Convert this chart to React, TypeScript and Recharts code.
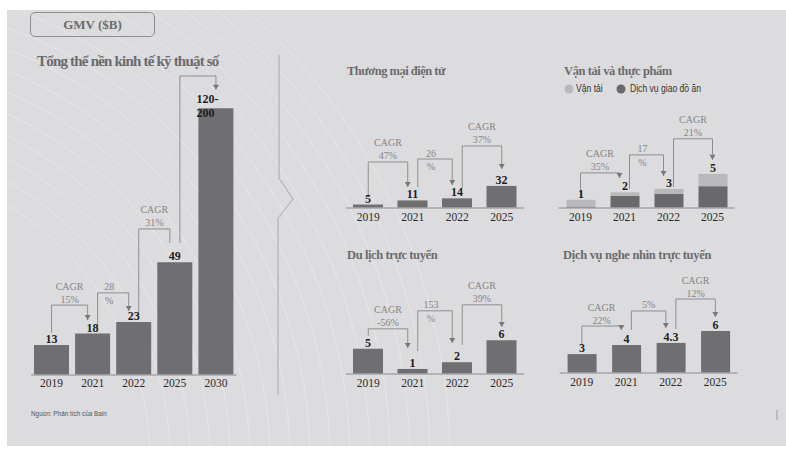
import React from 'react';
import { BarChart, Bar, XAxis, YAxis, LabelList, ReferenceLine } from 'recharts';

// categories
const years4 = ['2019', '2021', '2022', '2025'];
const years5 = ['2019', '2021', '2022', '2025', '2030'];

// GMV ($B)
const totalGmv = [13, 18, 23, 49, 116];
const totalLabels = ['13', '18', '23', '49', '120-200'];

const ecomGmv = [5, 11, 14, 32];
const ecomLabels = ['5', '11', '14', '32'];

const transportGmv = [1.0, 0.5, 0.7, 1.8];
const foodGmv = [0.2, 1.8, 2.1, 3.2];
const transportFoodLabels = ['1', '2', '3', '5'];

const travelGmv = [4.5, 0.9, 2.1, 6.0];
const travelLabels = ['5', '1', '2', '6'];

const mediaGmv = [2.7, 4.0, 4.3, 6.0];
const mediaLabels = ['3', '4', '4.3', '6'];

// CAGR brackets, levels in $B
type Bracket = { from: string; to: string; start: number; top: number; end: number; text: string[]; arrow?: boolean };

const totalCagr: Bracket[] = [
  { from: '2019', to: '2021', start: 18.3, top: 30.4, end: 23.9, text: ['CAGR', '15%'] },
  { from: '2021', to: '2022', start: 19.6, top: 35.7, end: 27.8, text: ['28', '%'] },
  { from: '2022', to: '2025', start: 24.8, top: 63.5, end: 57.4, text: ['CAGR', '31%'], arrow: false },
  { from: '2025', to: '2030', start: 57.4, top: 130, end: 124, text: [] },
];
const ecomCagr: Bracket[] = [
  { from: '2019', to: '2021', start: 15.9, top: 66.7, end: 30.4, text: ['CAGR', '47%'] },
  { from: '2021', to: '2022', start: 30.4, top: 71, end: 33.3, text: ['26', '%'] },
  { from: '2022', to: '2025', start: 29, top: 89.9, end: 56.5, text: ['CAGR', '37%'] },
];
const transportFoodCagr: Bracket[] = [
  { from: '2019', to: '2021', start: 1.76, top: 5.15, end: 4.41, text: ['CAGR', '35%'] },
  { from: '2021', to: '2022', start: 2.79, top: 7.79, end: 4.71, text: ['17', '%'] },
  { from: '2022', to: '2025', start: 3.09, top: 10.15, end: 7.06, text: ['CAGR', '21%'] },
];
const travelCagr: Bracket[] = [
  { from: '2019', to: '2021', start: 6.79, top: 8.04, end: 4.64, text: ['CAGR', '-56%'] },
  { from: '2021', to: '2022', start: 4.11, top: 11.25, end: 5.54, text: ['153', '%'] },
  { from: '2022', to: '2025', start: 5.18, top: 12.32, end: 8.39, text: ['CAGR', '39%'] },
];
const mediaCagr: Bracket[] = [
  { from: '2019', to: '2021', start: 4, top: 6.71, end: 6.14, text: ['CAGR', '22%'] },
  { from: '2021', to: '2022', start: 6.14, top: 8.86, end: 6.43, text: ['5%'] },
  { from: '2022', to: '2025', start: 6.29, top: 10.57, end: 8, text: ['CAGR', '12%'] },
];

const BG = '#dcdcde';
const BAR = '#6f6f71';
const BAR_DARK = '#69696b';
const BAR_LIGHT = '#b9b9bb';
const LINE = '#8e8e90';
const TITLE = '#6b6b6d';
const SERIF = '"Liberation Serif", "DejaVu Serif", serif';
const NARROW = '"Liberation Sans Narrow", "Liberation Sans", sans-serif';

const ValueLabel = (props: any) => {
  const { x, y, width, value } = props;
  const s = String(value);
  const style = { fontFamily: SERIF, fontSize: 12, fontWeight: 700, fill: '#1e1e1e' };
  if (s.includes('-')) {
    const [a, b] = s.split('-');
    return (
      <text x={x - 2} y={y} {...style}>
        <tspan x={x - 2} dy={-5}>{a}-</tspan>
        <tspan x={x - 2} dy={14}>{b}</tspan>
      </text>
    );
  }
  return (
    <text x={x + width / 2} y={y - 2} textAnchor="middle" {...style}>
      {s}
    </text>
  );
};

function renderBrackets(list: Bracket[], key: string) {
  return list.flatMap((b, i) => {
    const dxFrom = i === 0 ? 0 : 5;
    const dxTo = i === list.length - 1 ? 0 : -5;
    const split = b.text.length === 2 && b.text[0] !== 'CAGR';
    return [
      <ReferenceLine
        key={`${key}-${i}-up`}
        segment={[{ x: b.from, y: b.start }, { x: b.from, y: b.top }]}
        ifOverflow="visible"
        shape={(p: any) => (
          <line x1={p.x1 + dxFrom} y1={p.y1} x2={p.x2 + dxFrom} y2={p.y2} stroke={LINE} strokeWidth={1} />
        )}
      />,
      <ReferenceLine
        key={`${key}-${i}-top`}
        segment={[{ x: b.from, y: b.top }, { x: b.to, y: b.top }]}
        ifOverflow="visible"
        shape={(p: any) => {
          const mid = (p.x1 + dxFrom + p.x2 + dxTo) / 2 - (split ? 4 : 0);
          return (
            <g>
              <line x1={p.x1 + dxFrom} y1={p.y1} x2={p.x2 + dxTo} y2={p.y2} stroke={LINE} strokeWidth={1} />
              <text textAnchor="middle" fontFamily={SERIF} fontSize={10} fill="#858587">
                {b.text.map((t, j) => {
                  const dy = split ? (j === 0 ? -2.5 : 11) : -2.5 - (b.text.length - 1 - j) * 13;
                  return (
                    <tspan key={j} x={mid} y={p.y1 + dy}>
                      {t}
                    </tspan>
                  );
                })}
              </text>
            </g>
          );
        }}
      />,
      <ReferenceLine
        key={`${key}-${i}-down`}
        segment={[{ x: b.to, y: b.top }, { x: b.to, y: b.end }]}
        ifOverflow="visible"
        shape={(p: any) => {
          const x = p.x2 + dxTo;
          return (
            <g>
              <line x1={p.x1 + dxTo} y1={p.y1} x2={x} y2={p.y2} stroke={LINE} strokeWidth={1} />
              {b.arrow !== false && (
                <polygon points={`${x - 3},${p.y2 - 5} ${x + 3},${p.y2 - 5} ${x},${p.y2}`} fill="#78787a" />
              )}
            </g>
          );
        }}
      />,
    ];
  });
}

const axisProps = {
  dataKey: 'year',
  tickLine: false,
  tickSize: 0,
  interval: 0 as const,
  height: 20,
  axisLine: { stroke: '#a6a6a8', strokeWidth: 1.5 },
  tick: { fontFamily: SERIF, fontSize: 11.5, fill: '#2a2a2a' },
};

const toRows = (values: number[], labels: string[], cats: string[]) =>
  cats.map((year, i) => ({ year, value: values[i], label: labels[i] }));

const totalData = toRows(totalGmv, totalLabels, years5);
const ecomData = toRows(ecomGmv, ecomLabels, years4);
const travelData = toRows(travelGmv, travelLabels, years4);
const mediaData = toRows(mediaGmv, mediaLabels, years4);
const transportFoodData = years4.map((year, i) => ({
  year,
  food: foodGmv[i],
  transport: transportGmv[i],
  label: transportFoodLabels[i],
}));

type SmallProps = {
  data: any[];
  left: number;
  top: number;
  marginLeft: number;
  marginTop: number;
  marginBottom: number;
  max: number;
  barSize: number;
  brackets: Bracket[];
  name: string;
};

function SmallChart({ data, left, top, marginLeft, marginTop, marginBottom, max, barSize, brackets, name }: SmallProps) {
  return (
    <div style={{ position: 'absolute', left, top }}>
      <BarChart
        width={210}
        height={130}
        data={data}
        margin={{ top: marginTop, right: 210 - marginLeft - 178, bottom: marginBottom, left: marginLeft }}
      >
        <XAxis {...axisProps} tickMargin={5} />
        <YAxis hide type="number" domain={[0, max]} />
        <Bar dataKey="value" fill={BAR} barSize={barSize} isAnimationActive={false}>
          <LabelList dataKey="label" content={ValueLabel} />
        </Bar>
        {renderBrackets(brackets, name)}
      </BarChart>
    </div>
  );
}

const arcRadii = [300, 320, 340, 360, 380, 400, 420, 440, 460, 480, 500, 520, 540, 560, 580, 600];

const titleStyle: React.CSSProperties = {
  position: 'absolute',
  fontFamily: SERIF,
  fontWeight: 700,
  color: TITLE,
  lineHeight: 1,
  whiteSpace: 'nowrap',
};

const narrowText: React.CSSProperties = {
  position: 'absolute',
  fontFamily: NARROW,
  whiteSpace: 'nowrap',
  lineHeight: 1,
  transformOrigin: 'left center',
};

export default function App() {
  return (
    <div>
      <div style={{ position: 'absolute', left: 7, top: 10, width: 779, height: 436, background: BG, overflow: 'hidden' }}>
        <svg width={779} height={436} style={{ position: 'absolute', left: 0, top: 0 }}>
          {arcRadii.map((r) => (
            <circle key={r} cx={-157} cy={450} r={r} fill="none" stroke="#f2f2f3" strokeOpacity={0.5} strokeWidth={1} />
          ))}
        </svg>
      </div>

      <svg width={786} height={450} style={{ position: 'absolute', left: 0, top: 0 }}>
        <polyline points="279,55 279,178 293,199 278,218 278,395" fill="none" stroke="#a8a8aa" strokeWidth={1} />
        <line x1={777} y1={410} x2={777} y2={420} stroke="#9a9a9c" strokeWidth={1} />
      </svg>

      <div
        style={{
          position: 'absolute',
          left: 30,
          top: 12,
          width: 123,
          height: 23,
          border: '1px solid #8e8e90',
          borderRadius: 5,
          display: 'flex',
          alignItems: 'center',
          justifyContent: 'center',
          fontFamily: SERIF,
          fontWeight: 700,
          fontSize: 13,
          color: TITLE,
        }}
      >
        GMV ($B)
      </div>

      <div style={{ ...titleStyle, left: 37, top: 54, fontSize: 15, letterSpacing: -0.8 }}>Tổng thể nền kinh tế kỹ thuật số</div>
      <div style={{ ...titleStyle, left: 347, top: 65, fontSize: 12.5, letterSpacing: -0.5 }}>Thương mại điện tử</div>
      <div style={{ ...titleStyle, left: 564, top: 65, fontSize: 12.5, letterSpacing: -0.4 }}>Vận tải và thực phẩm</div>
      <div style={{ ...titleStyle, left: 347, top: 249, fontSize: 12.5, letterSpacing: -0.4 }}>Du lịch trực tuyến</div>
      <div style={{ ...titleStyle, left: 563, top: 249, fontSize: 12.5, letterSpacing: -0.3 }}>Dịch vụ nghe nhìn trực tuyến</div>

      {/* legend for transport & food */}
      <svg width={786} height={450} style={{ position: 'absolute', left: 0, top: 0 }}>
        <circle cx={569} cy={89} r={4.5} fill={BAR_LIGHT} />
        <circle cx={621} cy={89} r={4.5} fill={BAR_DARK} />
      </svg>
      <div style={{ ...narrowText, left: 576, top: 83, fontSize: 11, color: '#333', transform: 'scaleX(0.78)' }}>Vận tải</div>
      <div style={{ ...narrowText, left: 630, top: 83, fontSize: 11, color: '#333', transform: 'scaleX(0.78)' }}>Dịch vụ giao đồ ăn</div>

      <div style={{ ...narrowText, left: 31, top: 410, fontSize: 7.5, color: '#555', transform: 'scaleX(0.85)' }}>
        Nguồn: Phân tích của Bain
      </div>

      {/* overall digital economy */}
      <div style={{ position: 'absolute', left: 0, top: 0 }}>
        <BarChart width={260} height={400} data={totalData} margin={{ top: 53, right: 23.5, bottom: 5, left: 31 }}>
          <XAxis {...axisProps} tickMargin={4} />
          <YAxis hide type="number" domain={[0, 140]} />
          <Bar dataKey="value" fill={BAR} barSize={35} isAnimationActive={false}>
            <LabelList dataKey="label" content={ValueLabel} />
          </Bar>
          {renderBrackets(totalCagr, 'total')}
        </BarChart>
      </div>

      <SmallChart data={ecomData} left={330} top={100} marginLeft={16} marginTop={39} marginBottom={2} max={100} barSize={30} brackets={ecomCagr} name="ecom" />

      <div style={{ position: 'absolute', left: 550, top: 100 }}>
        <BarChart width={210} height={130} data={transportFoodData} margin={{ top: 33, right: 25.5, bottom: 2, left: 8.5 }}>
          <XAxis {...axisProps} tickMargin={5} />
          <YAxis hide type="number" domain={[0, 11]} />
          <Bar dataKey="food" stackId="a" fill={BAR_DARK} barSize={29} isAnimationActive={false} />
          <Bar dataKey="transport" stackId="a" fill={BAR_LIGHT} barSize={29} isAnimationActive={false}>
            <LabelList dataKey="label" content={ValueLabel} />
          </Bar>
          {renderBrackets(transportFoodCagr, 'tf')}
        </BarChart>
      </div>

      <SmallChart data={travelData} left={330} top={265} marginLeft={16} marginTop={36} marginBottom={1} max={13} barSize={30} brackets={travelCagr} name="travel" />
      <SmallChart data={mediaData} left={550} top={265} marginLeft={9.6} marginTop={31} marginBottom={2} max={11} barSize={29} brackets={mediaCagr} name="media" />
    </div>
  );
}
